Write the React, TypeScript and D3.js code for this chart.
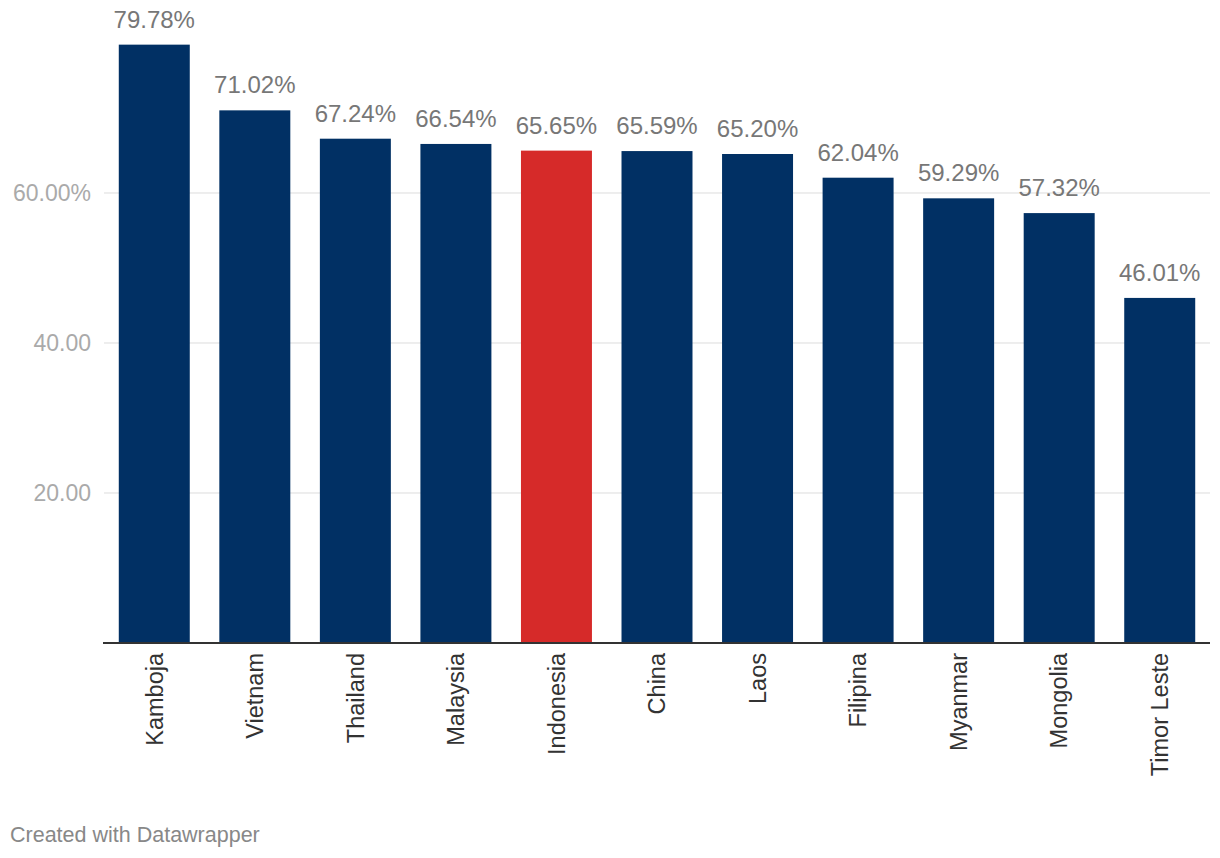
import React, { useEffect, useRef } from 'react';
import * as d3 from 'd3';

const countries = ['Kamboja', 'Vietnam', 'Thailand', 'Malaysia', 'Indonesia', 'China', 'Laos', 'Filipina', 'Myanmar', 'Mongolia', 'Timor Leste'];
const values = [79.78, 71.02, 67.24, 66.54, 65.65, 65.59, 65.2, 62.04, 59.29, 57.32, 46.01];
const highlight = 'Indonesia';
const yTicks = [20, 40, 60];
const yTickLabels = ['20.00', '40.00', '60.00%'];

const W = 1220;
const H = 858;
const margin = { top: 0, right: 10, bottom: 215, left: 104 };

const App: React.FC = () => {
  const svgRef = useRef<SVGSVGElement>(null);

  useEffect(() => {
    document.body.style.margin = '0';
    if (!svgRef.current) return;
    const svg = d3.select(svgRef.current);
    svg.selectAll('*').remove();

    const x = d3.scaleBand<string>()
      .domain(countries)
      .range([margin.left, W - margin.right])
      .paddingInner(0.294)
      .paddingOuter(0.147);

    // 0 sits at 643, 20 units = 150px
    const y = d3.scaleLinear().domain([0, 85.733]).range([643, 0]);

    const font = '"Liberation Sans", Arial, Helvetica, sans-serif';

    // gridlines
    svg.append('g')
      .selectAll('line')
      .data(yTicks)
      .join('line')
      .attr('x1', margin.left)
      .attr('x2', W - margin.right)
      .attr('y1', d => y(d))
      .attr('y2', d => y(d))
      .attr('stroke', '#dddddd')
      .attr('stroke-width', 1);

    svg.append('g')
      .selectAll('text')
      .data(yTicks)
      .join('text')
      .attr('x', 91)
      .attr('y', d => y(d))
      .attr('dy', '0.35em')
      .attr('text-anchor', 'end')
      .attr('font-family', font)
      .attr('font-size', 23)
      .attr('fill', '#aaaaaa')
      .text((_, i) => yTickLabels[i]);

    // bars
    svg.append('g')
      .selectAll('rect')
      .data(countries)
      .join('rect')
      .attr('x', d => x(d)!)
      .attr('width', x.bandwidth())
      .attr('y', (_, i) => y(values[i]))
      .attr('height', (_, i) => y(0) - y(values[i]))
      .attr('fill', d => (d === highlight ? '#d62a29' : '#013064'));

    // value labels
    svg.append('g')
      .selectAll('text')
      .data(countries)
      .join('text')
      .attr('x', d => x(d)! + x.bandwidth() / 2)
      .attr('y', (_, i) => y(values[i]) - 17)
      .attr('text-anchor', 'middle')
      .attr('font-family', font)
      .attr('font-size', 24)
      .attr('fill', '#777777')
      .text((_, i) => d3.format('.2f')(values[i]) + '%');

    // baseline
    svg.append('line')
      .attr('x1', margin.left - 1)
      .attr('x2', W - margin.right)
      .attr('y1', y(0))
      .attr('y2', y(0))
      .attr('stroke', '#333333')
      .attr('stroke-width', 2);

    // category labels
    svg.append('g')
      .selectAll('text')
      .data(countries)
      .join('text')
      .attr('transform', d => `translate(${x(d)! + x.bandwidth() / 2},${y(0) + 10}) rotate(-90)`)
      .attr('dy', '0.35em')
      .attr('text-anchor', 'end')
      .attr('font-family', font)
      .attr('font-size', 23.5)
      .attr('fill', '#333333')
      .text(d => d);

    svg.append('text')
      .attr('x', 10)
      .attr('y', 842)
      .attr('font-family', font)
      .attr('font-size', 21.5)
      .attr('fill', '#888888')
      .text('Created with Datawrapper');
  }, []);

  return <svg ref={svgRef} width={W} height={H} style={{ display: 'block', background: '#fff' }} />;
};

export default App;
